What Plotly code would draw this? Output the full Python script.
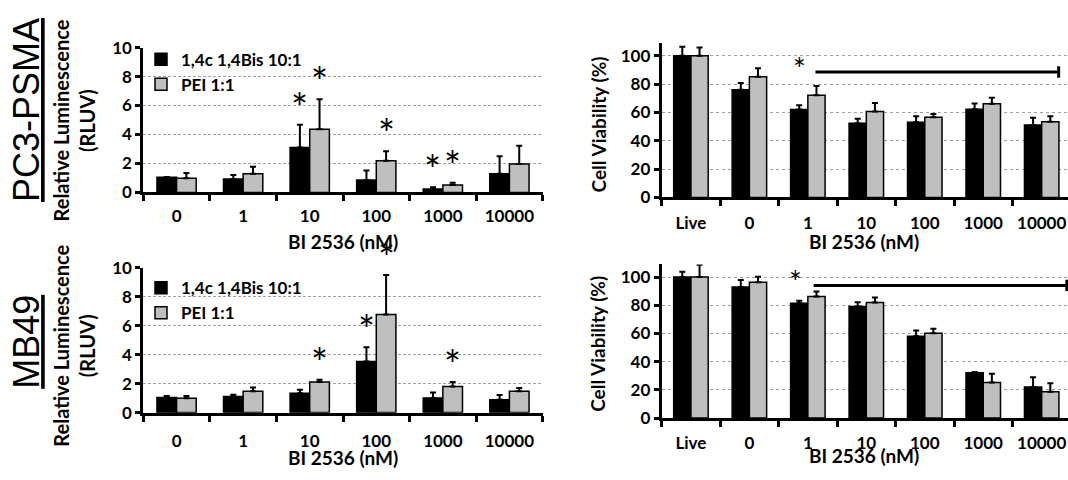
import plotly.graph_objects as go

# ---------------- data ----------------
lum_cats = ["0", "1", "10", "100", "1000", "10000"]
via_cats = ["Live", "0", "1", "10", "100", "1000", "10000"]
series_names = ["1,4c 1,4Bis 10:1", "PEI 1:1"]

pc3_lum_bis = [1.04, 0.93, 3.11, 0.86, 0.24, 1.28]
pc3_lum_bis_err = [0.02, 0.28, 1.56, 0.66, 0.11, 1.21]
pc3_lum_pei = [0.97, 1.28, 4.36, 2.18, 0.51, 1.96]
pc3_lum_pei_err = [0.37, 0.50, 2.07, 0.66, 0.15, 1.26]
pc3_lum_sig_bis = [0, 0, 1, 0, 1, 0]
pc3_lum_sig_pei = [0, 0, 1, 1, 1, 0]

mb49_lum_bis = [1.05, 1.12, 1.34, 3.52, 1.01, 0.88]
mb49_lum_bis_err = [0.09, 0.11, 0.24, 0.99, 0.37, 0.33]
mb49_lum_pei = [0.99, 1.47, 2.11, 6.77, 1.80, 1.47]
mb49_lum_pei_err = [0.15, 0.27, 0.15, 2.72, 0.31, 0.22]
mb49_lum_sig_bis = [0, 0, 0, 1, 0, 0]
mb49_lum_sig_pei = [0, 0, 1, 1, 1, 0]

pc3_via_bis = [100, 76, 62, 52.4, 53, 62.2, 51.2]
pc3_via_bis_err = [6.3, 4.7, 3.0, 3.1, 4.3, 4.1, 5.0]
pc3_via_pei = [100, 85.2, 72.1, 60.7, 56.6, 66.1, 53.5]
pc3_via_pei_err = [5.8, 6.0, 6.6, 6.0, 2.3, 4.2, 3.8]

mb49_via_bis = [100, 93, 81.4, 79.2, 58.1, 32.1, 22]
mb49_via_bis_err = [3.8, 5.0, 1.9, 2.9, 4.1, 0.5, 7.0]
mb49_via_pei = [100, 96.4, 86.2, 81.9, 60.2, 25.3, 18.6]
mb49_via_pei_err = [8.8, 3.8, 3.6, 3.6, 3.1, 6.1, 6.1]

# significance bracket (category index units, y value)
pc3_sig_bracket = dict(star_x=1.86, start=2.13, end=6.29, y=88.5)
mb49_sig_bracket = dict(star_x=1.79, start=2.10, end=6.43, y=94.1)

row_labels = ["PC3-PSMA", "MB49"]
lum_title = "Relative Luminescence<br>(RLUV)"
via_title = "Cell Viability (%)"
x_title = "BI 2536 (nM)"

# ---------------- style ----------------
FONT = "Lato"
BLACK = "#000000"
GRAY = "#bfbfbf"
colors = [BLACK, GRAY]
W, H = 1068, 480

fig = go.Figure()


def add_pair(cats, vals, errs, xa, ya, legend, showlegend):
    for i in range(2):
        fig.add_trace(go.Bar(
            x=cats, y=vals[i], name=series_names[i],
            marker=dict(color=colors[i], line=dict(color=BLACK, width=1.5)),
            error_y=dict(type="data", array=errs[i], arrayminus=[0] * len(cats),
                         symmetric=False, color=BLACK, thickness=2, width=3),
            xaxis=xa, yaxis=ya, legend=legend, showlegend=showlegend,
        ))


add_pair(lum_cats, [pc3_lum_bis, pc3_lum_pei], [pc3_lum_bis_err, pc3_lum_pei_err], "x", "y", "legend", True)
add_pair(via_cats, [pc3_via_bis, pc3_via_pei], [pc3_via_bis_err, pc3_via_pei_err], "x2", "y2", "legend", False)
add_pair(lum_cats, [mb49_lum_bis, mb49_lum_pei], [mb49_lum_bis_err, mb49_lum_pei_err], "x3", "y3", "legend2", True)
add_pair(via_cats, [mb49_via_bis, mb49_via_pei], [mb49_via_bis_err, mb49_via_pei_err], "x4", "y4", "legend2", False)

annotations = []
shapes = []

BAR_OFF = 0.15


def add_stars(vals, errs, sig, offset, xref, yref):
    for i, s in enumerate(sig):
        if s:
            annotations.append(dict(
                x=i + offset, y=vals[i] + errs[i], xref=xref, yref=yref,
                text="*", showarrow=False, yanchor="bottom", yshift=-9,
                font=dict(family=FONT, size=40, color=BLACK),
            ))


add_stars(pc3_lum_bis, pc3_lum_bis_err, pc3_lum_sig_bis, -BAR_OFF, "x", "y")
add_stars(pc3_lum_pei, pc3_lum_pei_err, pc3_lum_sig_pei, BAR_OFF, "x", "y")
add_stars(mb49_lum_bis, mb49_lum_bis_err, mb49_lum_sig_bis, -BAR_OFF, "x3", "y3")
add_stars(mb49_lum_pei, mb49_lum_pei_err, mb49_lum_sig_pei, BAR_OFF, "x3", "y3")


def add_bracket(b, xref, yref):
    shapes.append(dict(type="line", xref=xref, yref=yref, x0=b["start"], x1=b["end"],
                       y0=b["y"], y1=b["y"], line=dict(color=BLACK, width=3)))
    shapes.append(dict(type="line", xref=xref, yref=yref, x0=b["end"], x1=b["end"],
                       y0=b["y"] - 4, y1=b["y"] + 4, line=dict(color=BLACK, width=3)))
    annotations.append(dict(x=b["star_x"], y=b["y"], xref=xref, yref=yref, text="*",
                            showarrow=False, yanchor="middle", yshift=4,
                            font=dict(family=FONT, size=30, color=BLACK)))


add_bracket(pc3_sig_bracket, "x2", "y2")
add_bracket(mb49_sig_bracket, "x4", "y4")


def paper_text(text, px, py, size, weight="normal", angle=0, family=FONT, yanchor="middle", yshift=0):
    annotations.append(dict(x=px / W, y=(H - py) / H, xref="paper", yref="paper",
                            xanchor="center", yanchor=yanchor, yshift=yshift, text=text,
                            textangle=angle, showarrow=False,
                            font=dict(family=family, size=size, color=BLACK, weight=weight)))


# row labels
paper_text("<u>" + row_labels[0] + "</u>", 27, 103.5, 36, angle=-90, family="Liberation Sans")
paper_text("<u>" + row_labels[1] + "</u>", 27, 346, 36, angle=-90, family="Liberation Sans")
# axis titles
paper_text(lum_title, 74, 114.5, 20, "bold", -90)
paper_text(lum_title, 74, 350, 20, "bold", -90)
paper_text(via_title, 598, 118.6, 19, "bold", -90)
paper_text(via_title, 598, 348, 19, "bold", -90)
paper_text(x_title, 342.5, 241, 19, "bold")
paper_text(x_title, 342.5, 480, 19, "bold", yanchor="bottom", yshift=-1)
paper_text(x_title, 864, 241, 19, "bold")
paper_text(x_title, 864, 480, 19, "bold", yanchor="bottom", yshift=1)

tickfont = dict(family=FONT, size=17, color=BLACK, weight="bold")


def xax(domain, anchor, rng, standoff):
    return dict(domain=domain, anchor=anchor, type="category", range=rng,
                showline=True, linewidth=3, linecolor=BLACK, mirror=False,
                ticks="outside", tickson="boundaries", ticklen=6, tickwidth=3, tickcolor=BLACK,
                tickfont=tickfont, showgrid=False, zeroline=False, ticklabelstandoff=standoff)


def yax(domain, anchor, rng, dtick, dash):
    return dict(domain=domain, anchor=anchor, range=rng, dtick=dtick, tick0=0,
                showline=True, linewidth=3, linecolor=BLACK,
                ticks="outside", ticklen=5, tickwidth=3, tickcolor=BLACK,
                tickfont=tickfont, showgrid=True, gridcolor="#a0a0a0", gridwidth=1, griddash=dash,
                zeroline=False)


legend_font = dict(family=FONT, size=17, color=BLACK, weight="bold")

fig.update_layout(
    width=W, height=H, margin=dict(l=0, r=0, t=0, b=0),
    paper_bgcolor="white", plot_bgcolor="white",
    barmode="group", bargap=0.41, bargroupgap=0,
    font=dict(family=FONT, color=BLACK),
    xaxis=xax([143.3 / W, 542.7 / W], "y", [-0.5, 5.5], 6),
    yaxis=yax([0.6048, 0.9202], "x", [0, 10], 2, "3px,2px"),
    xaxis2=xax([661.7 / W, 1.0], "y2", [-0.5, 6.45], 8),
    yaxis2=yax([0.59375, 0.9304], "x2", [0, 109], 20, "dot"),
    xaxis3=xax([143.3 / W, 542.7 / W], "y3", [-0.5, 5.5], 11),
    yaxis3=yax([0.125, 0.441], "x3", [0, 10], 2, "3px,2px"),
    xaxis4=xax([661.7 / W, 1.0], "y4", [-0.5, 6.45], 8),
    yaxis4=yax([0.1131, 0.4479], "x4", [0, 109], 20, "dot"),
    legend=dict(x=141 / W, y=(H - 32) / H, xanchor="left", yanchor="top",
                bgcolor="rgba(0,0,0,0)", font=legend_font, tracegroupgap=0, itemwidth=30),
    legend2=dict(x=141 / W, y=(H - 271) / H, xanchor="left", yanchor="top",
                 bgcolor="rgba(0,0,0,0)", font=legend_font, tracegroupgap=0, itemwidth=30),
    annotations=annotations, shapes=shapes,
    showlegend=True,
)

fig.write_html("out.html")
